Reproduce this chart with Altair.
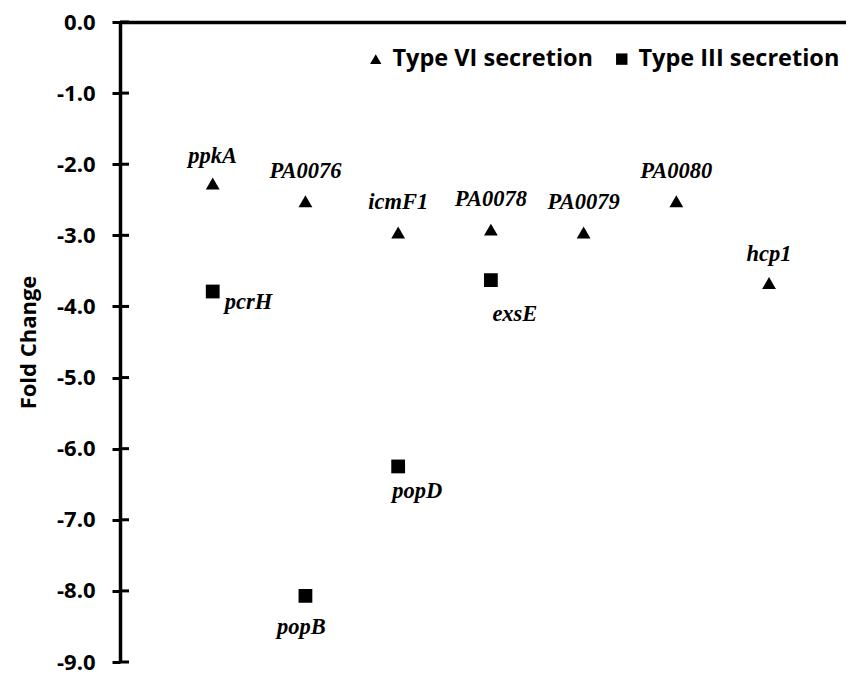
import altair as alt
import pandas as pd

# Data
t6_genes = ["ppkA", "PA0076", "icmF1", "PA0078", "PA0079", "PA0080", "hcp1"]
t6_pos = [1, 2, 3, 4, 5, 6, 7]
t6_fold = [-2.27, -2.52, -2.96, -2.92, -2.96, -2.52, -3.67]

t3_genes = ["pcrH", "popB", "popD", "exsE"]
t3_pos = [1, 2, 3, 4]
t3_fold = [-3.79, -8.07, -6.25, -3.63]

y_ticks = [0, -1, -2, -3, -4, -5, -6, -7, -8, -9]
series_names = ["Type VI secretion", "Type III secretion"]

# label offsets (dx, dy, align) relative to each marker
label_offsets = {
    "ppkA": (0, -27, "center"), "PA0076": (0, -30, "center"), "icmF1": (0, -30, "center"),
    "PA0078": (0, -31, "center"), "PA0079": (0, -30, "center"), "PA0080": (0, -30, "center"),
    "hcp1": (0, -29, "center"),
    "pcrH": (12, 10, "left"), "exsE": (24, 34, "center"), "popD": (19, 25, "center"),
    "popB": (-4, 31, "center"),
}

df = pd.DataFrame({
    "gene": t6_genes + t3_genes,
    "pos": t6_pos + t3_pos,
    "fold": t6_fold + t3_fold,
    "series": [series_names[0]] * len(t6_genes) + [series_names[1]] * len(t3_genes),
})
ticks_df = pd.DataFrame({"y": y_ticks})

SANS = "Open Sans"
xscale = alt.Scale(domain=[0, 7.83], nice=False, zero=False)
yscale = alt.Scale(domain=[-9, 0], nice=False, zero=False)

points = alt.Chart(df).mark_point(filled=True, opacity=1, color="black", size=190).encode(
    x=alt.X("pos:Q", scale=xscale,
            axis=alt.Axis(orient="top", labels=False, ticks=False, grid=False, title=None,
                          domainColor="black", domainWidth=3.5)),
    y=alt.Y("fold:Q", scale=yscale,
            axis=alt.Axis(values=y_ticks, grid=False, title="Fold Change",
                          labelExpr="replace(format(datum.value, '.1f'), '\u2212', '-')",
                          domainColor="black", domainWidth=3.5, tickColor="black", tickWidth=3,
                          tickSize=8, labelFont=SANS, labelFontWeight="bold", labelFontSize=22,
                          labelColor="black", labelPadding=17, titleFont=SANS,
                          titleFontWeight="bold", titleFontSize=22, titleColor="black",
                          titlePadding=16)),
    shape=alt.Shape("series:N",
                    scale=alt.Scale(domain=series_names, range=["triangle-up", "square"]),
                    legend=alt.Legend(title=None, orient="none", legendX=244, legendY=25,
                                      direction="horizontal", labelFont=SANS,
                                      labelFontWeight="bold", labelFontSize=23.5,
                                      labelColor="black", symbolFillColor="black",
                                      symbolStrokeColor="black", symbolSize=130,
                                      columnPadding=16, labelOffset=5, labelLimit=400)),
)

inner_ticks = alt.Chart(ticks_df).mark_rule(color="black", strokeWidth=3).encode(
    y=alt.Y("y:Q", scale=yscale),
    x=alt.value(0), x2=alt.value(9),
)

layers = [inner_ticks, points]
for g, (dx, dy, al) in label_offsets.items():
    layers.append(
        alt.Chart(df[df.gene == g]).mark_text(
            font="Liberation Serif", fontStyle="italic", fontWeight="bold", fontSize=22.5,
            color="black", dx=dx, dy=dy, align=al, baseline="middle",
        ).encode(x=alt.X("pos:Q", scale=xscale), y=alt.Y("fold:Q", scale=yscale), text="gene:N")
    )

chart = alt.layer(*layers).properties(
    width=726, height=640,
    autosize=alt.AutoSizeParams(type="none"),
    padding={"left": 112, "top": 14, "right": 0, "bottom": 10},
).configure_view(stroke=None)

chart.save("out.html", embed_options={"renderer": "svg", "actions": False})
